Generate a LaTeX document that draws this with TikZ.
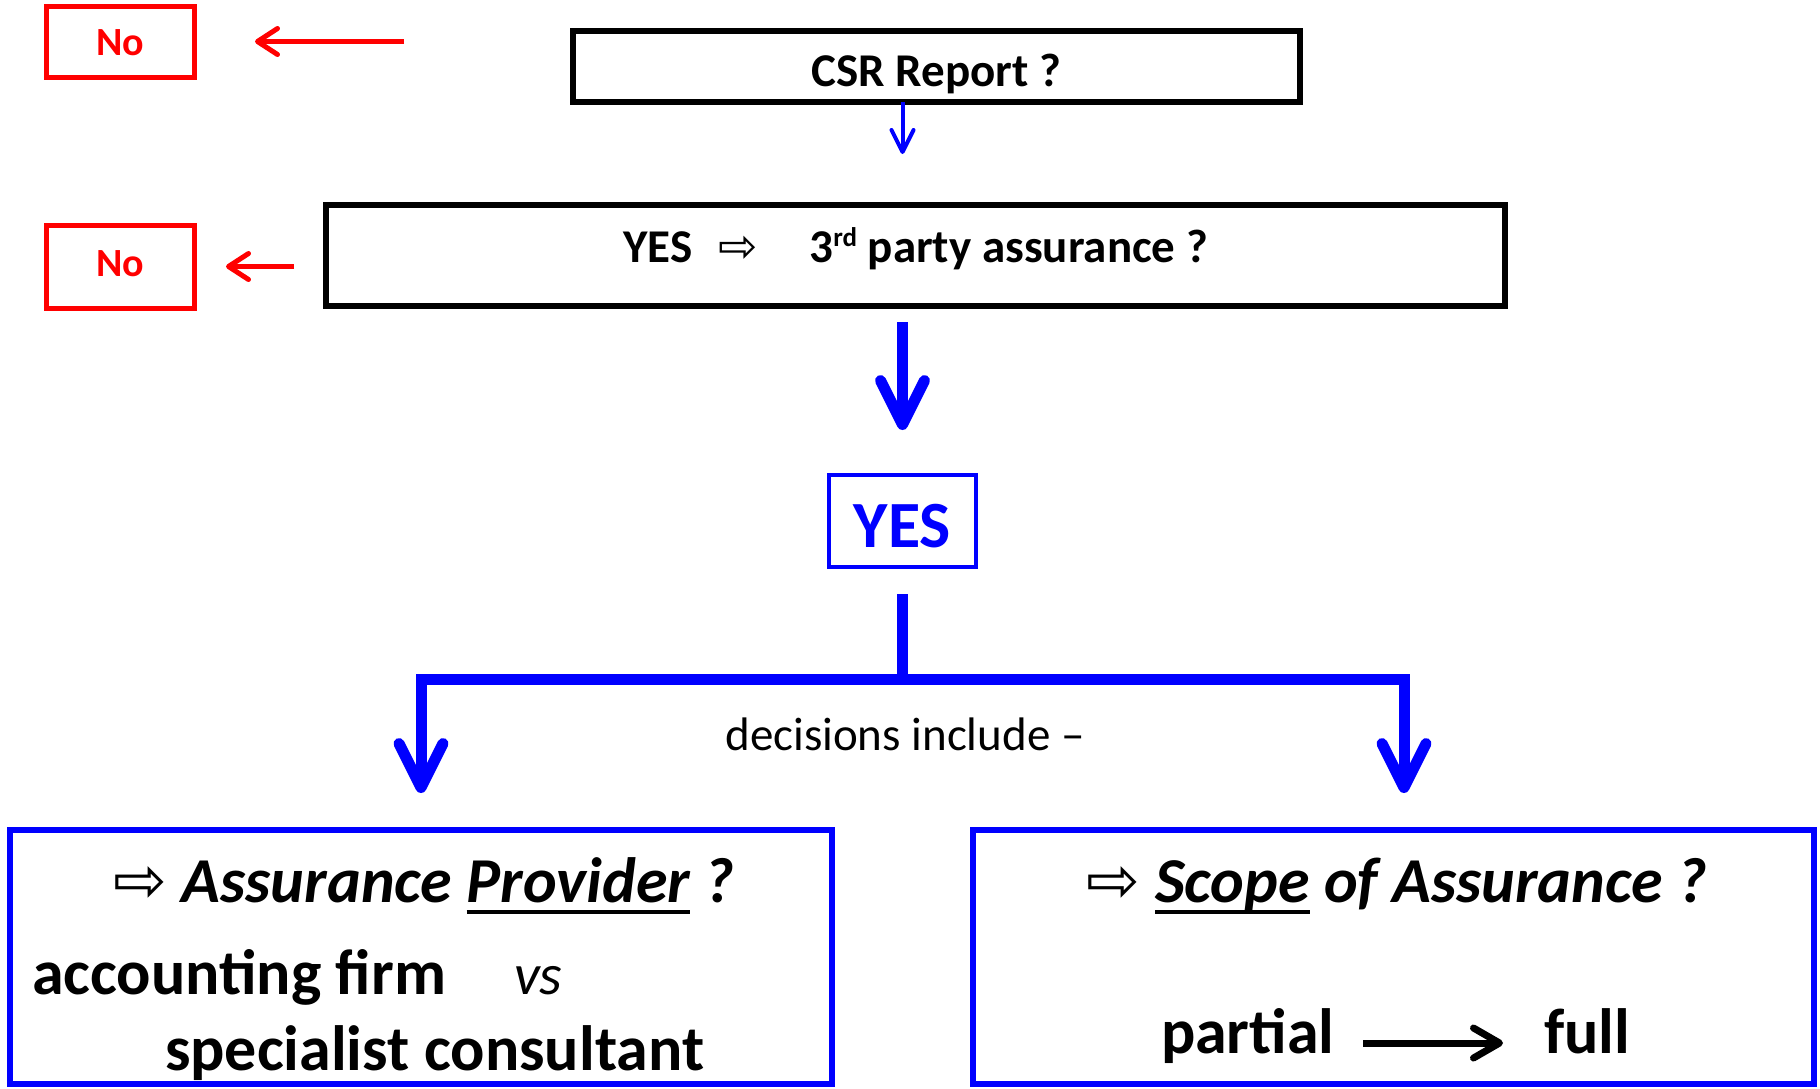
\documentclass[tikz,border=0pt]{standalone}
\usepackage{fontspec}
\setmainfont{Carlito}
\newfontfamily\arrowfont{DejaVu Sans}
\usetikzlibrary{positioning,arrows.meta}

\newsavebox{\ulbox}
\newcommand{\ulword}[1]{\sbox{\ulbox}{#1}\rlap{\rule[-12pt]{\wd\ulbox}{4pt}}\usebox{\ulbox}}
\newcommand{\hollowto}{{\arrowfont\mdseries\upshape\symbol{"21E8}}}
\newcommand{\ordsup}[1]{\raisebox{16pt}{\fontsize{27}{30}\selectfont #1}}

\begin{document}
\begin{tikzpicture}[
  x=1pt, y=-1pt, outer sep=0pt,
  qbox/.style={draw, line width=5.5pt, text depth=0pt, font=\fontsize{47}{56}\selectfont\bfseries},
  nobox/.style={draw=red, text=red, line width=5pt, minimum width=148pt, font=\fontsize{40}{48}\selectfont\bfseries},
  yesbox/.style={draw=blue, text=blue, line width=4.5pt, inner sep=4pt, minimum width=147pt, minimum height=92pt, text height=52pt, text depth=0pt, font=\fontsize{66}{78}\selectfont\bfseries},
  choice/.style={draw=blue, line width=6pt, minimum height=254pt},
  head/.style={inner sep=0pt, anchor=base, font=\fontsize{64}{76}\selectfont\bfseries\itshape},
  body/.style={inner sep=0pt, anchor=base west, font=\fontsize{64}{76}\selectfont\bfseries},
  note/.style={inner sep=0pt, font=\fontsize{47}{56}\selectfont},
  noarr/.style={draw=red, line width=5pt, -{Straight Barb[length=20pt, width=26pt, round]}},
  thinarr/.style={draw=blue, line width=4pt, -{Straight Barb[length=22pt, width=22pt, round]}},
  bigarr/.style={draw=blue, line width=11pt, -{Straight Barb[length=44pt, width=44pt, round]}},
  scalearr/.style={draw, line width=7pt, -{Straight Barb[length=26pt, width=30pt, round]}}
]
\useasboundingbox (0,0) rectangle (1820,1088);
\node[qbox, minimum width=727pt, minimum height=71pt, text height=40pt] (csr) at (936.5,66.5) {CSR Report ?};
\node[qbox, below=103pt of csr, xshift=-21pt, minimum width=1179pt, minimum height=101pt, text height=30pt, text depth=17pt] (party) {YES\hspace{26pt}\hollowto\hspace{52pt}3\ordsup{rd} party assurance ?};
\node[nobox, minimum height=71pt, text height=29pt, left=379pt of csr, yshift=25pt] (no1) {No};
\node[nobox, minimum height=83pt, text height=29pt, text depth=10pt, left=132pt of party, yshift=-11pt] (no2) {No};
\node[yesbox, below=169pt of party, xshift=-13pt] (yes) {YES};
\coordinate[below=112pt of yes] (fork);
\node[note, below=71pt of fork, anchor=base, xshift=2.5pt] (decide) {decisions include --};
\node[choice, minimum width=822pt, below=263pt of yes, xshift=-481.5pt] (provider) {};
\node[choice, minimum width=841pt, right=141pt of provider] (scope) {};
\node[head] (provq) at (424,902) {\hollowto\ Assurance \ulword{Provider} ?};
\node[body] (acct) at (32,994) {accounting firm};
\node[body, font=\fontsize{58}{70}\selectfont\itshape] (vs) at (514,994) {vs};
\node[body] (spec) at (165,1070) {specialist consultant};
\node[head] (scopeq) at (1397,902) {\hollowto\ \ulword{Scope} of Assurance ?};
\node[body] (partial) at (1161,1053) {partial};
\node[body] (full) at (1544,1053) {full};
\draw[noarr, shorten <=169pt, shorten >=61pt] (no1.east -| csr.west) -- (no1.east);
\draw[noarr, shorten <=32pt, shorten >=32pt] (no2.east -| party.west) -- (no2.east);
\draw[thinarr, shorten >=51pt] (csr.south -| yes) -- (party.north -| yes);
\draw[bigarr, shorten <=16pt, shorten >=45pt] (party.south -| yes) -- (yes);
\draw[bigarr, -, shorten <=27pt] (yes) -- (fork);
\draw[bigarr, shorten >=37pt] (fork) -| (provider);
\draw[bigarr, shorten >=37pt] (fork) -| ([xshift=10.5pt]scope.north);
\draw[scalearr, shorten <=29pt, shorten >=41pt] ([yshift=10pt]partial.base east) -- ([yshift=10pt]full.base west);
\end{tikzpicture}
\end{document}
